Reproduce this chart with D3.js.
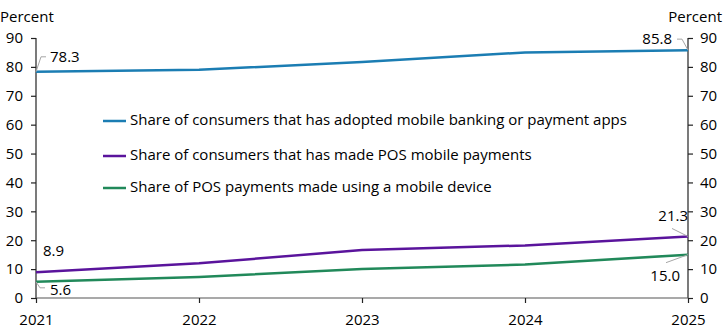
<!DOCTYPE html>
<html>
<head>
<meta charset="utf-8">
<script src="https://cdn.jsdelivr.net/npm/d3@7"></script>
<style>
  body { margin: 0; background: #fff; }
  svg text { font-family: "Open Sans", "Noto Sans", sans-serif; fill: #000; }
</style>
</head>
<body>
<div id="chart"></div>
<script>
// Data
let years = [2021, 2022, 2023, 2024, 2025];
let adoptedApps = [78.3, 79.0, 81.7, 85.0, 85.8];
let madePOS = [8.9, 12.0, 16.6, 18.2, 21.3];
let posShare = [5.6, 7.3, 10.0, 11.6, 15.0];
let yTicks = [0, 10, 20, 30, 40, 50, 60, 70, 80, 90];
let seriesNames = [
  "Share of consumers that has adopted mobile banking or payment apps",
  "Share of consumers that has made POS mobile payments",
  "Share of POS payments made using a mobile device"
];
let colors = ["#1b7db3", "#5a149c", "#21895a"];

let svgWidth = 725;
let svgHeight = 332;
let margin = { top: 38, right: 37, bottom: 34, left: 36 };
let width = svgWidth - margin.left - margin.right;
let height = svgHeight - margin.top - margin.bottom;

let svg = d3.select("#chart").append("svg")
  .attr("width", svgWidth)
  .attr("height", svgHeight);

let g = svg.append("g")
  .attr("transform", `translate(${margin.left}, ${margin.top})`);

let x = d3.scaleLinear().domain([2021, 2025]).range([0, width]);
let y = d3.scaleLinear().domain([0, 90]).range([height, 0]);

// Axes
let leftAxis = g.append("g")
  .call(d3.axisLeft(y).tickValues(yTicks).tickSize(5).tickPadding(8));
let rightAxis = g.append("g")
  .attr("transform", `translate(${width}, 0)`)
  .call(d3.axisRight(y).tickValues(yTicks).tickSize(5).tickPadding(7));
let bottomAxis = g.append("g")
  .attr("transform", `translate(0, ${height})`)
  .call(d3.axisBottom(x).tickValues(years).tickFormat(d3.format("d")).tickSize(5).tickPadding(11));

[leftAxis, rightAxis, bottomAxis].forEach(a => {
  a.selectAll("text").style("font-size", "15px");
  a.select(".domain").attr("stroke", "#222").attr("stroke-width", 1.2);
  a.selectAll(".tick line").attr("stroke", "#222").attr("stroke-width", 1.2);
});
bottomAxis.select(".domain").attr("stroke", "#555");

// plain axis lines without outer ticks
leftAxis.select(".domain").attr("d", `M0,${height}V0`);
rightAxis.select(".domain").attr("d", `M0,${height}V0`);
bottomAxis.select(".domain").attr("d", `M0,0H${width}`);

// Axis titles
svg.append("text").attr("x", 0).attr("y", 22).style("font-size", "15px").text("Percent");
svg.append("text").attr("x", svgWidth - 3).attr("y", 22).attr("text-anchor", "end")
  .style("font-size", "15px").text("Percent");

// Lines
let allSeries = [adoptedApps, madePOS, posShare];
let line = d3.line().x((d, i) => x(years[i])).y(d => y(d));
allSeries.forEach((s, k) => {
  g.append("path")
    .datum(s)
    .attr("fill", "none")
    .attr("stroke", colors[k])
    .attr("stroke-width", 2.5)
    .attr("d", line);
});

// Data labels with leader lines
let last = years.length - 1;
let labels = [
  { v: adoptedApps[0], yr: years[0], dx: 14, dy: -14, anchor: "start", lead: [[0, 0], [5, -15], [10, -15]] },
  { v: adoptedApps[last], yr: years[last], dx: -16, dy: -10, anchor: "end", lead: [[0, 0], [-6, -11], [-11, -11]] },
  { v: madePOS[0], yr: years[0], dx: 7, dy: -20, anchor: "start", lead: null },
  { v: posShare[0], yr: years[0], dx: 14, dy: 9, anchor: "start", lead: [[0, 0], [4, 6], [9, 6]] },
  { v: madePOS[last], yr: years[last], dx: 0, dy: -19, anchor: "end", lead: [[0, 0], [-16, -8]] },
  { v: posShare[last], yr: years[last], dx: -8, dy: 22, anchor: "end", lead: [[0, 0], [-22, 8]] }
];
labels.forEach(l => {
  let px = x(l.yr), py = y(l.v);
  if (l.lead) {
    g.append("path")
      .attr("d", d3.line()(l.lead.map(p => [px + p[0], py + p[1]])))
      .attr("fill", "none")
      .attr("stroke", "#a6a6a6")
      .attr("stroke-width", 1);
  }
  g.append("text")
    .attr("x", px + l.dx)
    .attr("y", py + l.dy)
    .attr("text-anchor", l.anchor)
    .attr("dominant-baseline", "middle")
    .style("font-size", "15px")
    .text(d3.format(".1f")(l.v));
});

// Legend
let legendY = [121, 156, 188];
seriesNames.forEach((name, k) => {
  svg.append("line")
    .attr("x1", 103).attr("x2", 126)
    .attr("y1", legendY[k]).attr("y2", legendY[k])
    .attr("stroke", colors[k]).attr("stroke-width", 2.5);
  svg.append("text")
    .attr("x", 130).attr("y", legendY[k])
    .attr("dominant-baseline", "middle")
    .style("font-size", "15px")
    .text(name);
});
</script>
</body>
</html>
